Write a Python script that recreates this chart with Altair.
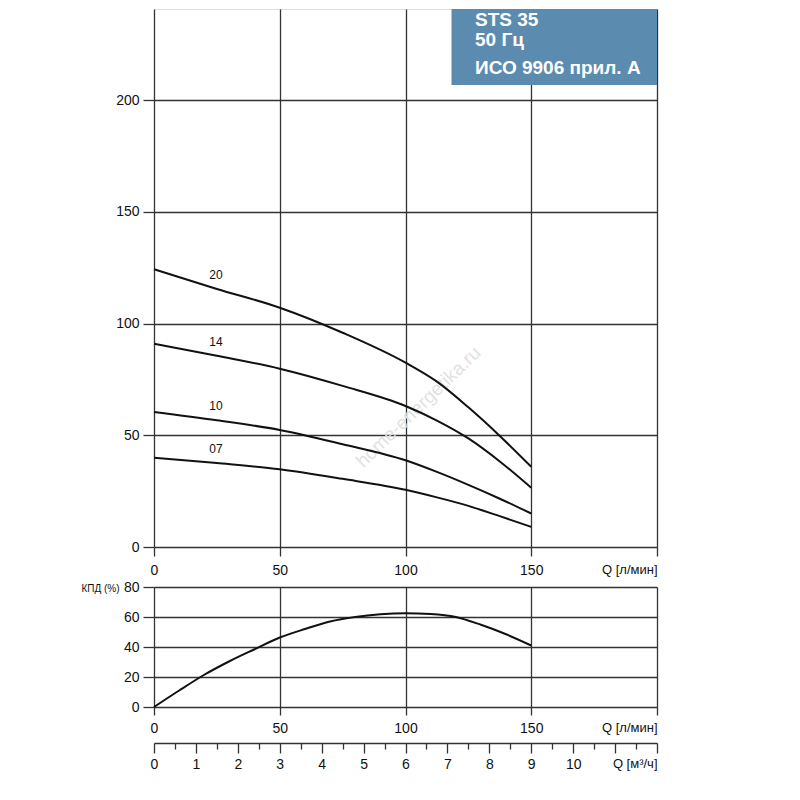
import altair as alt
import pandas as pd

# ---------------- data ----------------
# Head curves H [m] vs Q [l/min] for pump stages
q_head = [0, 25, 50, 75, 100, 112.5, 125, 137.5, 150]
h_20 = [124.3, 115.5, 107.1, 95.9, 82.5, 74.0, 62.5, 49.7, 35.9]
h_14 = [91.0, 85.6, 79.8, 72.1, 63.1, 56.6, 48.6, 38.3, 26.5]
h_10 = [60.4, 56.7, 52.4, 46.0, 38.8, 33.6, 27.8, 21.6, 15.0]
h_07 = [40.0, 37.6, 34.8, 30.5, 25.6, 22.2, 18.4, 13.8, 9.0]
stages = ["20", "14", "10", "07"]
label_index = 1  # stage labels sit above the curve at Q = 25

# Efficiency curve [%] vs Q [l/min]
q_eff = [0, 10, 20, 30, 40, 50, 60, 70, 80, 90, 100, 110, 120, 130, 140, 150]
eff = [0, 11, 21.5, 30.5, 38.5, 46.3, 52, 57, 60, 61.8, 62.5, 62, 60, 54.8, 48.5, 41]

# axis tick values
q_ticks = [0, 50, 100, 150, 200]
h_ticks = [0, 50, 100, 150, 200]
eff_ticks = [0, 20, 40, 60, 80]
m3h_ticks = [0, 0.5, 1, 1.5, 2, 2.5, 3, 3.5, 4, 4.5, 5, 5.5, 6, 6.5,
             7, 7.5, 8, 8.5, 9, 9.5, 10, 10.5, 11, 11.5, 12]

box_lines = ["STS 35", "50 Гц", "ИСО 9906 прил. А"]
q_unit = "Q [л/мин]"
m3_unit = "Q [м³/ч]"
eff_title = "КПД (%)"
watermark = "home-energetika.ru"

# ---------------- styling ----------------
FONT = "Liberation Sans"
GRID = "#333333"
INK = "#111111"
W = 503
H_HEAD = 538
H_EFF = 120

rows = []
for s, hv in zip(stages, [h_20, h_14, h_10, h_07]):
    for q, h in zip(q_head, hv):
        rows.append({"q": q, "h": h, "stage": s})
df_head = pd.DataFrame(rows)
df_lab = pd.DataFrame({
    "q": [q_head[label_index]] * 4,
    "h": [hv[label_index] for hv in [h_20, h_14, h_10, h_07]],
    "stage": stages,
})
df_eff = pd.DataFrame({"q": q_eff, "eff": eff})
one = pd.DataFrame({"a": [0]})


def q_axis(tick_size, pad):
    return alt.Axis(
        values=q_ticks, grid=True, gridColor=GRID, gridWidth=1.3,
        domain=False, ticks=True, tickSize=tick_size, tickColor=GRID, tickWidth=1.3,
        labelFont=FONT, labelColor=INK, labelPadding=pad,
        labelFlush=False, labelOverlap=False,
        labelExpr=f"datum.value == 200 ? '{q_unit}' : datum.label",
        labelAlign={"condition": {"test": "datum.value == 200", "value": "right"}, "value": "center"},
        labelFontSize={"condition": {"test": "datum.value == 200", "value": 13}, "value": 14},
        title=None,
    )


def y_axis(vals):
    return alt.Axis(
        values=vals, grid=True, gridColor=GRID, gridWidth=1.3,
        domain=False, ticks=True, tickSize=11, tickColor=GRID, tickWidth=1.3,
        labelFont=FONT, labelFontSize=14, labelColor=INK, labelPadding=4,
        labelOverlap=False, title=None,
    )


xq_head = alt.X("q:Q", scale=alt.Scale(domain=[0, 200], nice=False), axis=q_axis(9, 7))
y_head = alt.Y("h:Q", scale=alt.Scale(domain=[0, 240.8], nice=False), axis=y_axis(h_ticks))

wm = alt.Chart(one).mark_text(
    font=FONT, fontSize=19, color="#e2e2e2", angle=316, align="center", baseline="middle"
).encode(x=alt.value(264.5), y=alt.value(398), text=alt.value(watermark))

curves = alt.Chart(df_head).mark_line(
    color=INK, strokeWidth=2, interpolate="monotone"
).encode(x=xq_head, y=y_head, detail="stage:N")

stage_labels = alt.Chart(df_lab).mark_text(
    font=FONT, fontSize=12, color=INK, dy=-14, dx=-1, align="center", baseline="middle"
).encode(x="q:Q", y="h:Q", text="stage:N")

box = alt.Chart(one).mark_rect(color="#5b8bae").encode(
    x=alt.value(297.5), x2=alt.value(W), y=alt.value(0), y2=alt.value(76)
)

box_texts = [
    alt.Chart(one).mark_text(
        font=FONT, fontSize=19, fontWeight="bold", color="white",
        align="left", baseline="middle"
    ).encode(x=alt.value(321), y=alt.value(yy), text=alt.value(t))
    for t, yy in zip(box_lines, [10.5, 31, 59])
]

left_anchor = alt.Chart(one).mark_rule(color="white", strokeWidth=1).encode(
    x=alt.value(-144.5), y=alt.value(300), y2=alt.value(301)
)

head = alt.layer(wm, curves, stage_labels, box, *box_texts, left_anchor).properties(
    width=W, height=H_HEAD
)

# efficiency panel
eff_line = alt.Chart(df_eff).mark_line(
    color=INK, strokeWidth=2, interpolate="monotone"
).encode(
    x=alt.X("q:Q", scale=alt.Scale(domain=[0, 200], nice=False), axis=q_axis(8, 6)),
    y=alt.Y("eff:Q", scale=alt.Scale(domain=[0, 80], nice=False), axis=y_axis(eff_ticks)),
)

kpd = alt.Chart(one).mark_text(
    font=FONT, fontSize=10, color=INK, align="right", baseline="middle"
).encode(x=alt.value(-34.5), y=alt.value(2.3), text=alt.value(eff_title))

m3_axis = alt.Chart(pd.DataFrame({"m3": m3h_ticks})).mark_point(opacity=0).encode(
    x=alt.X(
        "m3:Q",
        scale=alt.Scale(domain=[0, 12], nice=False),
        axis=alt.Axis(
            orient="bottom", offset=36, values=m3h_ticks, grid=False,
            domain=True, domainColor=GRID, domainWidth=1.3,
            ticks=True, tickColor=GRID, tickWidth=1.3,
            tickSize={"condition": {"test": "datum.value % 1 == 0", "value": 10}, "value": 6},
            labelFont=FONT, labelColor=INK, labelPadding=4,
            labelFlush=False, labelOverlap=False,
            labelExpr=(f"datum.value == 12 ? '{m3_unit}' : "
                       "(datum.value % 1 == 0 && datum.value <= 10 ? format(datum.value, 'd') : '')"),
            labelAlign={"condition": {"test": "datum.value == 12", "value": "right"}, "value": "center"},
            labelFontSize={"condition": {"test": "datum.value == 12", "value": 13}, "value": 14},
            title=None,
        ),
    )
)

eff_chart = alt.layer(eff_line, kpd, m3_axis).resolve_scale(x="independent").properties(
    width=W, height=H_EFF
)

chart = alt.vconcat(head, eff_chart, spacing=40, bounds="flush").properties(
    padding=0
).configure_view(stroke=None).configure(background="white")

chart.save("out.html", embed_options={"renderer": "svg", "actions": False})
